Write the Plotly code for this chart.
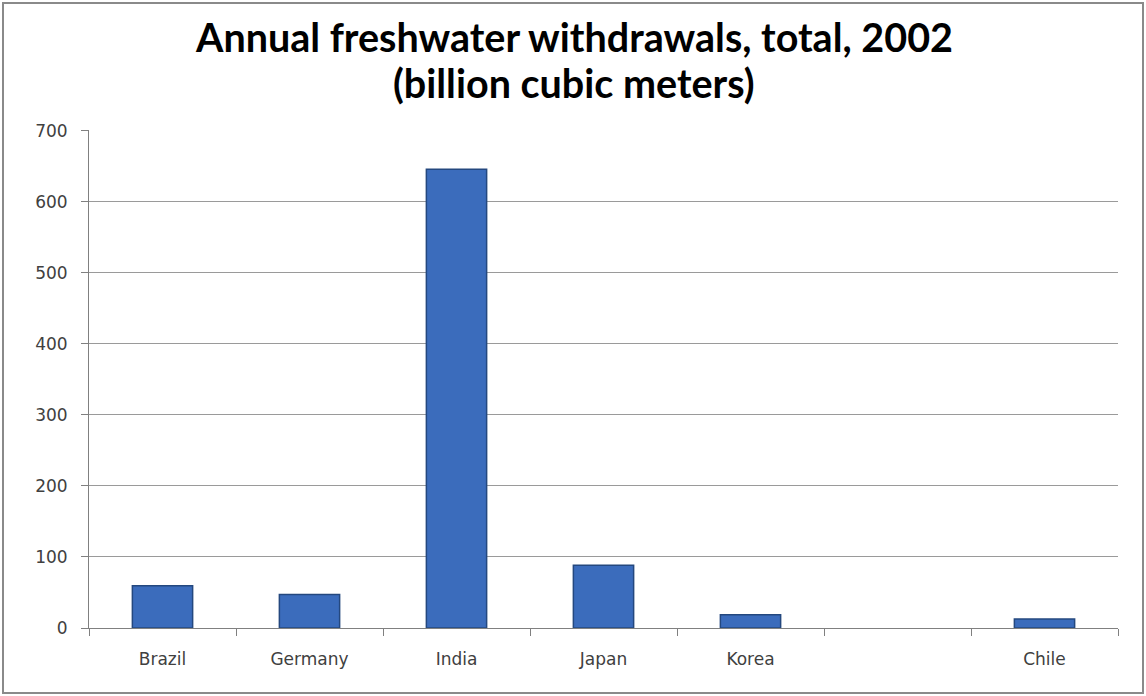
import plotly.graph_objects as go

categories = ["Brazil", "Germany", "India", "Japan", "Korea", " ", "Chile"]
withdrawals = [59.3, 47.1, 645.8, 88.4, 18.6, None, 12.6]
y_ticks = [0, 100, 200, 300, 400, 500, 600, 700]
title_lines = ["Annual freshwater withdrawals, total, 2002", "(billion cubic meters)"]

PLOT_TOP, PLOT_BOTTOM, PLOT_LEFT, PLOT_RIGHT = 130, 628, 89, 1118
PH = PLOT_BOTTOM - PLOT_TOP
PW = PLOT_RIGHT - PLOT_LEFT


def py(pix):
    return (PLOT_BOTTOM - pix) / PH


def px(pix):
    return (pix - PLOT_LEFT) / PW


fig = go.Figure()
fig.add_trace(go.Bar(
    x=categories,
    y=withdrawals,
    marker=dict(color="#3b6cbc", line=dict(color="#24487f", width=1.5)),
    width=0.41,
))

title_font = dict(family="Lato", size=39.5, color="black", weight="bold")
annotations = [
    dict(text=title_lines[0], x=px(573.5), y=py(36), xref="paper", yref="paper",
         xanchor="center", yanchor="middle", showarrow=False, font=title_font),
    dict(text=title_lines[1], x=px(573.5), y=py(83), xref="paper", yref="paper",
         xanchor="center", yanchor="middle", showarrow=False, font=title_font),
]

fig.update_layout(
    width=1146,
    height=696,
    margin=dict(l=PLOT_LEFT, r=1146 - PLOT_RIGHT, t=PLOT_TOP, b=696 - PLOT_BOTTOM),
    paper_bgcolor="white",
    plot_bgcolor="white",
    showlegend=False,
    annotations=annotations,
    xaxis=dict(
        type="category",
        categoryorder="array",
        categoryarray=categories,
        tickson="boundaries",
        ticks="outside",
        ticklen=7,
        tickcolor="#808080",
        showline=True,
        linecolor="#808080",
        linewidth=1,
        showgrid=False,
        tickfont=dict(family="DejaVu Sans", size=17, color="#404040"),
        ticklabelstandoff=16,
        fixedrange=True,
    ),
    yaxis=dict(
        range=[0, 701],
        tickvals=y_ticks,
        ticks="outside",
        ticklen=7,
        tickcolor="#808080",
        showline=True,
        linecolor="#808080",
        linewidth=1,
        showgrid=True,
        gridcolor="#9a9a9a",
        gridwidth=1,
        zeroline=False,
        tickfont=dict(family="DejaVu Sans", size=17, color="#404040"),
        ticklabelstandoff=10,
    ),
    shapes=[dict(
        type="rect", xref="paper", yref="paper",
        x0=px(3), x1=px(1143),
        y0=py(693), y1=py(3),
        line=dict(color="#8a8a8a", width=2),
        fillcolor="rgba(0,0,0,0)",
        layer="below",
    )],
)

fig.write_html(
    "out.html",
    config={"displayModeBar": False},
    post_script="document.body.style.margin='0';document.body.style.padding='0';",
)
